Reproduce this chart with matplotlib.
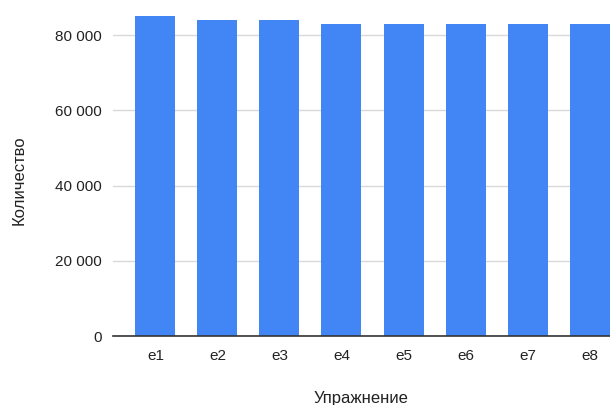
import matplotlib
matplotlib.use("Agg")
import matplotlib.pyplot as plt
from matplotlib.ticker import FuncFormatter

plt.rcParams['font.family'] = ['Liberation Sans', 'DejaVu Sans']

# data
exercises = ["e1", "e2", "e3", "e4", "e5", "e6", "e7", "e8"]
counts = [85200, 84100, 84100, 83000, 83000, 83000, 83000, 83000]
y_ticks = [0, 20000, 40000, 60000, 80000]

W, H = 610, 405
fig = plt.figure(figsize=(W / 100, H / 100), dpi=100)
# axes run off the right edge like the cropped original
left, bottom, width, top = 113, 69, 519, 400
ax = fig.add_axes([left / W, bottom / H, width / W, (top - bottom) / H])

x = list(range(len(exercises)))
ax.bar(x, counts, width=0.645, color="#4285F4", zorder=3)

ax.set_xlim(-0.685, len(exercises) - 1 + 0.685)
ax.set_ylim(0, 88000)
ax.set_yticks(y_ticks)
ax.yaxis.set_major_formatter(FuncFormatter(lambda v, p: f"{int(v):,}".replace(",", " ")))
ax.set_xticks(x)
ax.set_xticklabels(exercises)

ax.grid(axis="y", color="#d9d9d9", linewidth=1, zorder=0)
for s in ["top", "right", "left"]:
    ax.spines[s].set_visible(False)
ax.spines["bottom"].set_color("#333333")
ax.spines["bottom"].set_linewidth(1.2)
ax.spines["bottom"].set_zorder(4)
ax.tick_params(axis="both", length=0, labelsize=11, colors="#222222")
ax.tick_params(axis="y", pad=8)
ax.tick_params(axis="x", pad=9)

# x title sits partly below the bottom edge, as in the reference
fig.text(361 / W, 1 - 403 / H, "Упражнение", ha="center", va="baseline", fontsize=12, color="#222222")
fig.text(19.5 / W, 1 - 180 / H, "Количество", ha="center", va="center", rotation=90, fontsize=12, color="#222222")

fig.savefig("out.png", dpi=100)
